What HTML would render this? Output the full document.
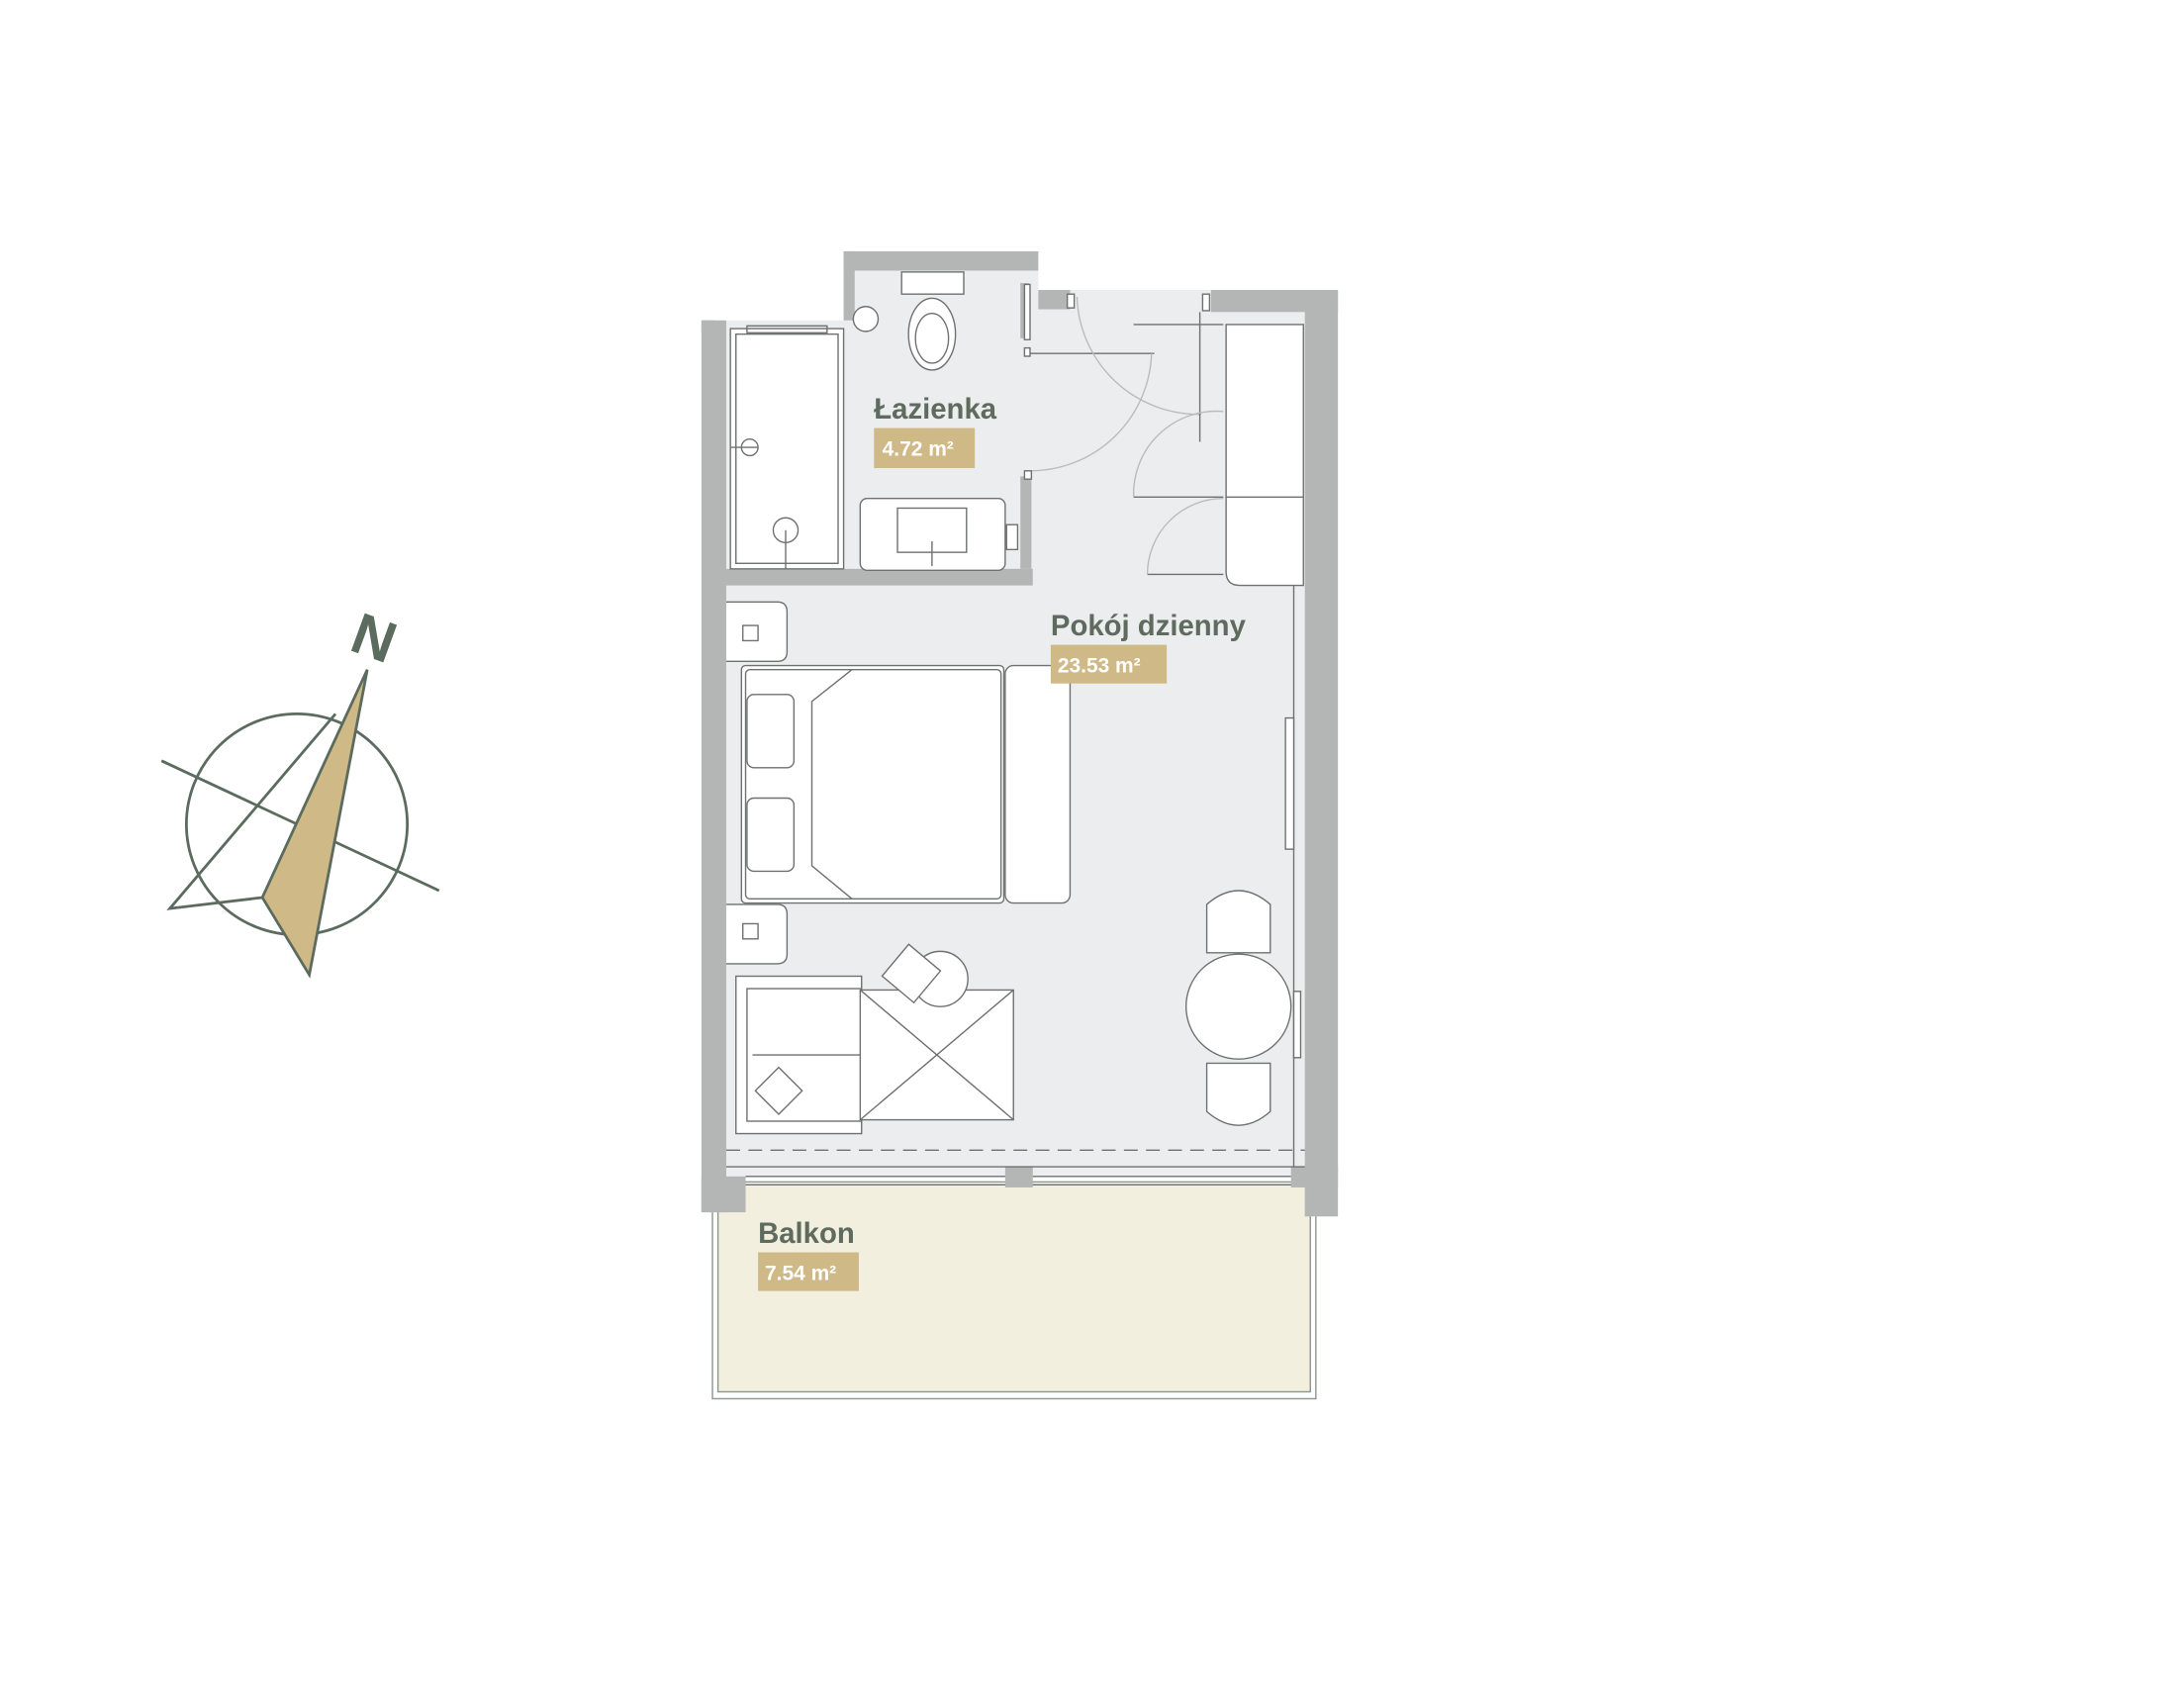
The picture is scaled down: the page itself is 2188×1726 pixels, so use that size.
<!DOCTYPE html>
<html><head><meta charset="utf-8"><style>
html,body{margin:0;padding:0;background:#fff;width:2188px;height:1726px;overflow:hidden}
svg{display:block}
text{font-family:"Liberation Sans",sans-serif}
</style></head><body>
<svg width="2188" height="1726" viewBox="0 0 1568 1237" preserveAspectRatio="none">
<!-- balcony -->
<rect x="516" y="856" width="437" height="157" fill="none" stroke="#8a968c" stroke-width="1"/>
<rect x="520" y="858" width="429" height="150" fill="#f2efdf" stroke="#8a968c" stroke-width="1"/>
<!-- floor -->
<polygon points="526,232 611,232 611,196 752,196 752,210 877,210 877,226 945,226 945,852 526,852" fill="#ecedee"/>
<!-- walls -->
<g fill="#b4b6b5">
<rect x="508" y="232" width="18" height="646"/>
<rect x="508" y="232" width="10" height="8"/>
<rect x="611" y="182" width="141" height="14"/>
<rect x="611" y="182" width="8" height="50"/>
<rect x="752" y="210" width="23" height="14"/>
<rect x="877" y="210" width="92" height="16"/>
<rect x="945" y="210" width="24" height="671"/>
<rect x="526" y="412" width="222" height="12"/>
<rect x="739" y="345" width="8" height="67"/>
<rect x="739" y="205" width="6" height="40"/>
<rect x="508" y="852" width="32" height="26"/>
<rect x="728" y="845" width="20" height="15"/>
<rect x="935" y="845" width="34" height="15"/>
</g>
<g fill="none" stroke="#6e716f" stroke-width="1">
<!-- shower -->
<rect x="529" y="238" width="82" height="174" fill="#fff"/>
<rect x="533" y="242" width="74" height="166"/>
<rect x="541" y="236" width="58" height="5"/>
<circle cx="543" cy="324" r="6" fill="#fff"/><line x1="529" y1="324" x2="549" y2="324"/>
<circle cx="569" cy="384" r="9" fill="#fff"/><line x1="569" y1="384" x2="569" y2="412"/>
<circle cx="627" cy="231" r="9" fill="#fff"/>
<!-- toilet -->
<rect x="653" y="197" width="45" height="16" fill="#fff"/>
<ellipse cx="675" cy="242" rx="17" ry="26" fill="#fff"/><ellipse cx="675" cy="245" rx="12" ry="18"/>
<!-- sink -->
<rect x="623" y="361" width="105" height="52" rx="5" fill="#fff"/>
<rect x="650" y="368" width="50" height="32" fill="#fff"/>
<line x1="675" y1="392" x2="675" y2="410"/>
<rect x="729" y="380" width="8" height="18" fill="#fff"/>
<!-- doors -->
<line x1="746" y1="256" x2="836" y2="256"/>
<path d="M746,341 A88,88 0 0 0 834,256" stroke="#bbb"/>
<path d="M780,215 A88,88 0 0 0 870,300" stroke="#bbb"/>
<rect x="742" y="206" width="4" height="40" fill="#fff"/>
<rect x="773" y="213" width="5" height="10" fill="#fff"/>
<rect x="742" y="341" width="5" height="6" fill="#fff"/>
<rect x="742" y="252" width="4" height="6" fill="#fff"/>
<line x1="821" y1="235" x2="886" y2="235"/>
<line x1="869" y1="226" x2="869" y2="320"/>
<rect x="871" y="213" width="5" height="12" fill="#fff"/>
<line x1="821" y1="360" x2="886" y2="360"/>
<path d="M821,360 A60,60 0 0 1 886,298" stroke="#bbb"/>
<line x1="831" y1="416" x2="886" y2="416"/>
<path d="M831,416 A55,55 0 0 1 886,361" stroke="#bbb"/>
<!-- wardrobe -->
<path d="M888,235 H944 V424 H898 Q888,424 888,414 Z" fill="#fff"/>
<line x1="888" y1="360" x2="944" y2="360"/>
<line x1="937" y1="424" x2="937" y2="845"/>
<rect x="931" y="520" width="6" height="95" fill="#fff"/>
<!-- nightstands -->
<path d="M526,436 H563 Q570,436 570,443 V472 Q570,479 563,479 H526" fill="#fff"/>
<rect x="538" y="453" width="11" height="11"/>
<path d="M526,655 H563 Q570,655 570,662 V691 Q570,698 563,698 H526" fill="#fff"/>
<rect x="538" y="669" width="11" height="11"/>
<!-- bed -->
<rect x="537" y="482" width="190" height="172" rx="3" fill="#fff"/>
<rect x="540" y="485" width="185" height="166" rx="3"/>
<polyline points="617,485 588,508 588,627 617,651"/>
<rect x="541" y="503" width="34" height="53" rx="5" fill="#fff"/>
<rect x="541" y="578" width="34" height="53" rx="5" fill="#fff"/>
<rect x="728" y="482" width="47" height="172" rx="6" fill="#fff"/>
<!-- sofa and table -->
<rect x="533" y="707" width="91" height="114" fill="#fff"/>
<rect x="541" y="716" width="83" height="96"/>
<line x1="545" y1="764" x2="624" y2="764"/>
<rect x="623" y="717" width="111" height="94" fill="#fff"/>
<line x1="623" y1="717" x2="734" y2="811"/><line x1="734" y1="717" x2="623" y2="811"/>
<rect x="552" y="778" width="24" height="24" transform="rotate(45 564 790)" fill="#fff"/>
<circle cx="681" cy="709" r="20" fill="#fff"/>
<rect x="645" y="690" width="30" height="30" transform="rotate(40 660 705)" fill="#fff"/>
<!-- dining -->
<circle cx="897" cy="729" r="38" fill="#fff"/>
<path d="M874,690 V655 Q897,635 920,655 V690 Z" fill="#fff"/>
<path d="M874,770 V805 Q897,825 920,805 V770 Z" fill="#fff"/>
<rect x="937" y="718" width="5" height="48" fill="#fff"/>
<line x1="526" y1="833" x2="945" y2="833" stroke-dasharray="10,6"/>
<line x1="526" y1="845" x2="945" y2="845"/>
<line x1="540" y1="852" x2="728" y2="852"/><line x1="540" y1="858" x2="728" y2="858"/>
<line x1="748" y1="852" x2="935" y2="852"/><line x1="748" y1="858" x2="935" y2="858"/>
</g>
<!-- labels -->
<g fill="#5e6b5e" font-weight="bold" font-size="21">
<text x="633" y="303">Łazienka</text>
<text x="761" y="460">Pokój dzienny</text>
<text x="549" y="900">Balkon</text>
</g>
<rect x="633" y="310" width="73" height="29" fill="#cfb987"/>
<rect x="761" y="467" width="84" height="28" fill="#cfb987"/>
<rect x="549" y="907" width="73" height="28" fill="#cfb987"/>
<g fill="#fff" font-weight="bold" font-size="15">
<text x="639" y="330">4.72 m²</text>
<text x="766" y="487">23.53 m²</text>
<text x="554" y="927">7.54 m²</text>
</g>
<!-- compass -->
<g stroke="#5b6b5e" stroke-width="2" fill="none">
<circle cx="215" cy="597" r="80"/>
<line x1="117" y1="551" x2="318" y2="645"/>
<polyline points="243,517 123,658 190,650"/>
<polygon points="266,485 190,650 224,706" fill="#cfb987"/>
</g>
<text x="255" y="478" font-size="42" font-weight="bold" fill="#5b6b5e" transform="rotate(20 275 465)">N</text>
</svg>
</body></html>
